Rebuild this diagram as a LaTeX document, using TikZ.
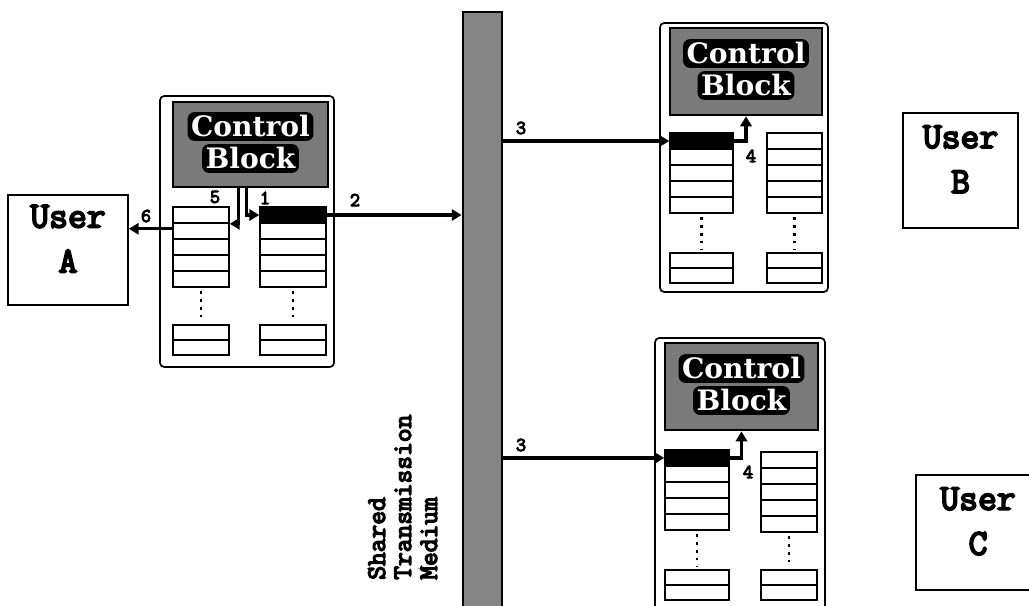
\documentclass[tikz,border=0pt]{standalone}
\usepackage{fontspec}
\newfontfamily\typefont{Latin Modern Mono}[FakeBold=5]
\newfontfamily\blockfont{DejaVu Serif}
\usetikzlibrary{arrows.meta,calc,fit}
\tikzset{
  host/.style={draw, line width=1.2pt, rounded corners=3pt, inner sep=0pt},
  ctrl/.style={draw, line width=2pt, fill=black!52, inner sep=0pt},
  cbword/.style={fill=black, text=white, rounded corners=5pt, inner sep=2.5pt,
    font=\blockfont\bfseries\fontsize{20}{22}\selectfont},
  cell/.style={draw, line width=1.1pt, inner sep=0pt},
  dots/.style={line width=2pt, dash pattern=on 2pt off 3.6pt},
  userbox/.style={draw, line width=1.2pt, inner sep=0pt, align=center,
    font=\typefont\fontsize{26}{32}\selectfont},
  link/.style={line width=2.4pt, -{Triangle[length=7pt,width=8pt]}},
  num/.style={font=\typefont\fontsize{14}{14}\selectfont, inner sep=1pt},
}

\begin{document}
\begin{tikzpicture}[x=0.025cm, y=-0.025cm]
  \useasboundingbox (0,0) rectangle (1029,605);
  \clip (0,0) rectangle (1029,605);
  % users
  \node[userbox, fit={(8,195) (128,305)}] (userA) {User\\A};
  \node[userbox, fit={(903,113) (1018,228)}] (userB) {User\\B};
  \node[userbox, fit={(916,475) (1040,590)}] (userC) {User\\C};
  % shared medium
  \node[draw, line width=2pt, fill=black!48, inner sep=0pt, fit={(463,12) (502,615)}] (bus) {};
  \node[rotate=90, anchor=north west, align=left, inner sep=0pt,
    font=\typefont\fontsize{19}{18.5}\selectfont] (busname) at (368,580)
    {Shared\\Transmission\\Medium};
  % stations
  \node[host, fit={(160,96) (334,367)}] (hostA) {};
  \node[host, fit={(660,23) (828,292)}] (hostB) {};
  \node[host, fit={(655,338) (825,620)}] (hostC) {};
  \node[ctrl, fit={(173,102) (328,187)}] (ctrlA) {};
  \node[ctrl, fit={(670,28) (822,115)}] (ctrlB) {};
  \node[ctrl, fit={(665,343) (818,430)}] (ctrlC) {};
  \foreach \c in {ctrlA,ctrlB,ctrlC} {
    \node[cbword] (\c-top) at ($(\c.center)+(0,-18)$) {Control};
    \node[cbword] (\c-bot) at ($(\c.center)+(0,14)$) {Block};
  }
  % buffers
  \foreach \q/\qx/\qy/\qw/\qb in {rxA/173/207/56/325, txA/260/207/66/325,
      rxB/670/133/63/253, txB/767/133/55/253, rxC/665/450/64/570, txC/761/452/56/570} {
    \node[cell, fit={(\qx,\qy) (\qx+\qw,\qy+16)}] (\q) {};
    \foreach \i in {1,...,4}
      \draw[cell] (\qx,\qy+16*\i) rectangle ++(\qw,16);
    \draw[dots] (\qx+\qw/2,\qy+84) -- (\qx+\qw/2,\qb-3);
    \draw[cell] (\qx,\qb) rectangle ++(\qw,15) (\qx,\qb+15) rectangle ++(\qw,15);
  }
  \foreach \q in {txA,rxB,rxC}
    \fill (\q.north west) rectangle (\q.south east);
  % transfers
  \draw[link] ($(ctrlA.south)+(-4,0)$) |- (txA.west);
  \draw[link] ($(ctrlA.south)+(-12,0)$) |- (rxA.south east);
  \draw[link] (txA.east) -- (txA.east -| bus.west);
  \draw[link] ($(rxA.south west)+(0,5)$) coordinate (outA) -- (outA -| userA.east);
  \draw[link] (rxB.west -| bus.east) -- (rxB.west);
  \draw[link] (rxB.east) -| (ctrlB.south);
  \draw[link] (rxC.west -| bus.east) -- (rxC.west);
  \draw[link] (rxC.east) -| (ctrlC.south);
  \node[num] (l1) at (265,198) {1};
  \node[num] (l2) at (355,200) {2};
  \node[num] (l3b) at (521,128) {3};
  \node[num] (l3c) at (521,445) {3};
  \node[num] (l4b) at (751,156) {4};
  \node[num] (l4c) at (748,472) {4};
  \node[num] (l5) at (215,197) {5};
  \node[num] (l6) at (146,216) {6};
\end{tikzpicture}
\end{document}
